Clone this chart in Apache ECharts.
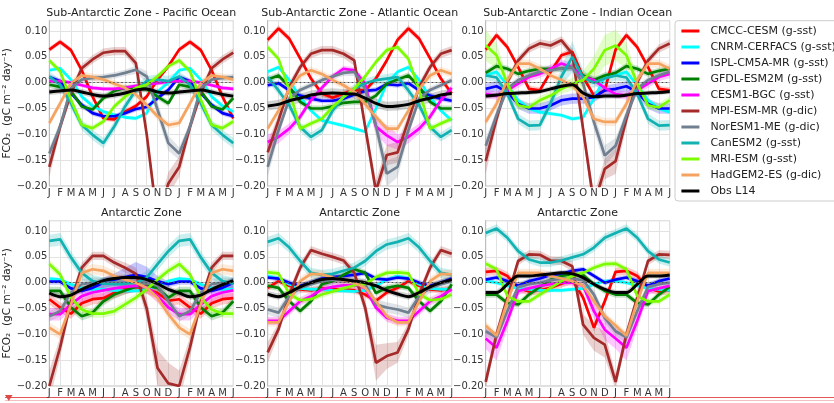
<!DOCTYPE html>
<html>
<head>
<meta charset="utf-8">
<script src="https://cdn.jsdelivr.net/npm/echarts@6/dist/echarts.min.js"></script>
<style>
  html, body { margin: 0; padding: 0; background: #ffffff; }
  #chart { width: 834px; height: 403px; }
</style>
</head>
<body>
<div id="chart"></div>
<script>
// Month ticks: one year of climatology plus the following half year
const monthTicks = ['J','F','M','A','M','J','J','A','S','O','N','D','J','F','M','A','M','J'];

const models = [
  'CMCC-CESM (g-sst)', 'CNRM-CERFACS (g-sst)', 'ISPL-CM5A-MR (g-sst)', 'GFDL-ESM2M (g-sst)',
  'CESM1-BGC (g-sst)', 'MPI-ESM-MR (g-dic)', 'NorESM1-ME (g-dic)', 'CanESM2 (g-sst)',
  'MRI-ESM (g-sst)', 'HadGEM2-ES (g-dic)', 'Obs L14'
];

const panelTitles = [
  'Sub-Antarctic Zone - Pacific Ocean', 'Sub-Antarctic Zone - Atlantic Ocean', 'Sub-Antarctic Zone - Indian Ocean',
  'Antarctic Zone', 'Antarctic Zone', 'Antarctic Zone'
];

// Monthly mean air-sea CO2 flux (Jan..Dec), one row per model in the order of `models`
const sazPacific = [
  [0.064, 0.079, 0.063, 0.024, -0.027, -0.069, -0.071, -0.056, -0.045, -0.027, 0.006, 0.032],
  [0.024, 0.028, 0.006, -0.027, -0.045, -0.056, -0.062, -0.067, -0.069, -0.059, -0.017, 0.0],
  [0.011, 0.003, -0.02, -0.043, -0.059, -0.065, -0.065, -0.059, -0.051, -0.047, -0.03, -0.014],
  [-0.004, -0.008, -0.016, -0.046, -0.052, -0.03, -0.016, -0.01, -0.01, -0.012, -0.027, -0.04],
  [0.003, 0.003, 0.0, -0.005, -0.01, -0.012, -0.012, -0.01, -0.006, -0.004, -0.001, 0.002],
  [-0.163, -0.085, -0.02, 0.028, 0.045, 0.058, 0.061, 0.061, 0.038, -0.1, -0.27, -0.195],
  [-0.137, -0.085, -0.01, 0.006, 0.009, 0.011, 0.014, 0.019, 0.025, 0.012, -0.052, -0.117],
  [0.012, -0.004, -0.04, -0.082, -0.101, -0.117, -0.085, -0.046, -0.014, 0.003, 0.006, 0.003],
  [0.043, 0.022, -0.033, -0.082, -0.088, -0.075, -0.046, -0.027, -0.01, -0.004, 0.012, 0.032],
  [-0.078, -0.04, -0.001, 0.014, 0.011, 0.006, -0.002, -0.01, -0.023, -0.043, -0.065, -0.082],
  [-0.018, -0.016, -0.014, -0.018, -0.023, -0.026, -0.024, -0.02, -0.014, -0.012, -0.018, -0.02]
];
const sazAtlantic = [
  [0.083, 0.105, 0.085, 0.047, 0.008, -0.021, -0.029, -0.021, -0.014, -0.015, 0.008, 0.043],
  [0.021, 0.03, 0.005, -0.028, -0.054, -0.073, -0.078, -0.083, -0.089, -0.095, -0.05, -0.002],
  [-0.005, -0.001, -0.015, -0.025, -0.031, -0.035, -0.035, -0.031, -0.023, -0.016, -0.014, -0.003],
  [0.006, 0.014, -0.008, -0.037, -0.05, -0.05, -0.046, -0.039, -0.037, -0.037, -0.025, -0.002],
  [-0.115, -0.105, -0.089, -0.066, -0.034, -0.01, 0.012, 0.027, 0.024, -0.002, -0.085, -0.102],
  [-0.135, -0.073, -0.008, 0.03, 0.056, 0.063, 0.063, 0.056, 0.043, -0.085, -0.21, -0.14],
  [-0.163, -0.092, -0.031, -0.014, -0.005, 0.005, 0.012, 0.019, 0.021, -0.012, -0.083, -0.176],
  [0.011, -0.015, -0.044, -0.086, -0.105, -0.092, -0.054, -0.028, -0.012, -0.001, 0.005, 0.008],
  [0.069, 0.046, -0.015, -0.089, -0.079, -0.07, -0.047, -0.028, -0.012, 0.012, 0.04, 0.063],
  [-0.089, -0.054, -0.012, 0.014, 0.024, 0.017, 0.005, -0.005, -0.018, -0.041, -0.066, -0.089],
  [-0.045, -0.042, -0.035, -0.03, -0.024, -0.021, -0.02, -0.021, -0.022, -0.03, -0.04, -0.046]
];
const sazIndian = [
  [0.064, 0.092, 0.069, 0.03, -0.012, -0.015, 0.021, 0.053, 0.06, 0.011, -0.025, -0.015],
  [0.014, 0.021, -0.005, -0.034, -0.05, -0.057, -0.06, -0.063, -0.07, -0.067, -0.031, 0.011],
  [-0.012, -0.007, -0.018, -0.041, -0.05, -0.05, -0.044, -0.034, -0.031, -0.031, -0.028, -0.015],
  [0.019, 0.032, 0.027, 0.017, 0.023, 0.027, 0.027, 0.027, 0.03, 0.014, 0.005, 0.014],
  [-0.022, -0.025, -0.015, -0.002, 0.011, 0.017, 0.027, 0.037, 0.03, 0.011, 0.005, -0.01],
  [-0.152, -0.07, 0.001, 0.043, 0.066, 0.076, 0.072, 0.082, 0.056, -0.09, -0.236, -0.167],
  [-0.122, -0.063, -0.012, 0.005, 0.014, 0.021, 0.024, 0.027, 0.03, -0.002, -0.076, -0.141],
  [0.014, 0.01, -0.022, -0.07, -0.083, -0.082, -0.04, 0.012, 0.05, 0.01, 0.0, 0.008],
  [0.072, 0.053, -0.002, -0.044, -0.048, -0.034, -0.025, -0.012, -0.002, 0.005, 0.027, 0.063],
  [-0.076, -0.041, 0.005, 0.037, 0.037, 0.027, 0.014, 0.005, -0.005, -0.028, -0.07, -0.076],
  [-0.026, -0.024, -0.021, -0.02, -0.019, -0.017, -0.012, -0.007, -0.004, -0.02, -0.027, -0.026]
];
const azPacific = [
  [-0.032, -0.048, -0.06, -0.04, -0.032, -0.03, -0.02, -0.012, -0.008, -0.012, -0.02, -0.035],
  [0.008, 0.006, -0.003, -0.01, -0.013, -0.013, -0.015, -0.016, -0.016, -0.013, -0.006, 0.003],
  [0.002, 0.002, -0.011, -0.016, -0.01, 0.0, 0.006, 0.011, 0.015, 0.011, 0.003, -0.003],
  [-0.016, -0.016, -0.048, -0.065, -0.058, -0.036, -0.023, -0.015, -0.008, -0.006, -0.01, -0.029],
  [-0.061, -0.061, -0.042, -0.026, -0.019, -0.015, -0.011, -0.008, -0.006, -0.008, -0.026, -0.048],
  [-0.2, -0.125, -0.036, 0.029, 0.052, 0.052, 0.039, 0.029, 0.017, -0.05, -0.165, -0.195],
  [-0.065, -0.055, -0.019, -0.003, 0.0, 0.0, 0.0, 0.0, 0.0, 0.0, -0.006, -0.036],
  [0.081, 0.084, 0.049, 0.019, 0.003, -0.002, -0.003, -0.002, 0.0, 0.01, 0.036, 0.061],
  [0.036, 0.016, -0.029, -0.052, -0.06, -0.06, -0.055, -0.042, -0.029, -0.013, 0.006, 0.023],
  [-0.087, -0.1, -0.042, 0.019, 0.026, 0.023, 0.013, 0.006, 0.0, -0.01, -0.029, -0.061],
  [-0.02, -0.027, -0.024, -0.013, -0.004, 0.004, 0.008, 0.01, 0.01, 0.006, -0.002, -0.013]
];
const azAtlantic = [
  [-0.01, 0.003, -0.006, -0.013, -0.015, -0.011, -0.013, -0.013, -0.015, -0.023, -0.035, -0.019],
  [0.013, 0.008, -0.003, -0.011, -0.013, -0.013, -0.015, -0.016, -0.017, -0.015, -0.006, 0.006],
  [0.01, 0.008, 0.0, -0.006, 0.0, 0.008, 0.011, 0.013, 0.015, 0.019, 0.008, 0.006],
  [-0.006, -0.01, -0.036, -0.055, -0.036, -0.003, 0.003, 0.015, 0.026, 0.019, -0.02, -0.01],
  [-0.074, -0.074, -0.055, -0.036, -0.026, -0.013, -0.008, -0.005, -0.005, -0.01, -0.048, -0.068],
  [-0.135, -0.09, -0.023, 0.029, 0.063, 0.056, 0.05, 0.043, 0.019, -0.048, -0.155, -0.142],
  [-0.052, -0.058, -0.026, -0.01, -0.003, 0.003, 0.006, 0.005, 0.003, -0.003, -0.042, -0.048],
  [0.079, 0.086, 0.068, 0.042, 0.019, 0.015, 0.017, 0.023, 0.029, 0.042, 0.061, 0.074],
  [0.02, 0.018, -0.022, -0.034, -0.032, -0.023, -0.017, -0.011, -0.005, -0.003, 0.011, 0.019],
  [-0.077, -0.077, -0.036, 0.003, 0.017, 0.016, 0.01, 0.005, 0.0, -0.01, -0.036, -0.065],
  [-0.022, -0.027, -0.019, -0.008, 0.0, 0.006, 0.008, 0.006, 0.003, 0.0, -0.006, -0.015]
];
const azIndian = [
  [0.021, 0.023, 0.013, -0.01, -0.017, -0.015, -0.01, -0.002, 0.006, -0.029, -0.087, -0.036],
  [0.003, 0.0, -0.006, -0.011, -0.013, -0.015, -0.015, -0.015, -0.013, -0.011, -0.003, 0.003],
  [0.006, 0.01, 0.003, -0.006, 0.003, 0.008, 0.015, 0.017, 0.023, 0.026, 0.013, 0.0],
  [-0.023, -0.023, -0.039, -0.042, -0.023, -0.008, 0.006, 0.013, 0.017, 0.015, -0.003, -0.016],
  [-0.108, -0.126, -0.074, -0.016, -0.011, -0.006, -0.003, 0.0, 0.0, -0.006, -0.055, -0.091],
  [-0.192, -0.1, -0.029, 0.042, 0.055, 0.054, 0.043, 0.042, 0.032, -0.081, -0.107, -0.12],
  [-0.094, -0.106, -0.055, -0.008, -0.003, 0.0, 0.005, 0.008, 0.008, 0.005, -0.023, -0.068],
  [0.096, 0.105, 0.087, 0.061, 0.045, 0.039, 0.039, 0.043, 0.049, 0.055, 0.068, 0.087],
  [0.037, 0.026, -0.026, -0.036, -0.036, -0.023, -0.01, 0.003, 0.013, 0.019, 0.029, 0.036],
  [-0.083, -0.103, -0.036, 0.019, 0.019, 0.019, 0.013, 0.008, 0.003, -0.006, -0.036, -0.065],
  [-0.019, -0.019, -0.003, 0.013, 0.013, 0.015, 0.017, 0.019, 0.017, 0.01, -0.003, -0.013]
];

// Spread (half-width of the shaded band) per model: one value or twelve monthly values
const sazPacificSpread = [0.005, 0.004, 0.005, 0.006, 0.004,
  [0.02, 0.012, 0.01, 0.008, 0.008, 0.008, 0.008, 0.008, 0.01, 0.012, 0.02, 0.022],
  [0.012, 0.01, 0.008, 0.006, 0.006, 0.006, 0.006, 0.006, 0.008, 0.01, 0.015, 0.015],
  0.01, 0.006, 0.007, 0.006];
const sazAtlanticSpread = [0.006, 0.004, 0.005, 0.006,
  [0.015, 0.012, 0.01, 0.008, 0.006, 0.006, 0.006, 0.006, 0.006, 0.008, 0.015, 0.02],
  [0.02, 0.012, 0.01, 0.008, 0.008, 0.008, 0.008, 0.008, 0.01, 0.015, 0.02, 0.02],
  [0.02, 0.012, 0.008, 0.006, 0.006, 0.006, 0.006, 0.006, 0.008, 0.01, 0.02, 0.025],
  0.009, 0.006, 0.007, 0.009];
const sazIndianSpread = [0.006, 0.004, 0.01, 0.006, 0.008,
  [0.025, 0.015, 0.01, 0.008, 0.008, 0.008, 0.008, 0.008, 0.01, 0.015, 0.02, 0.02],
  [0.015, 0.01, 0.008, 0.006, 0.006, 0.006, 0.006, 0.006, 0.008, 0.01, 0.015, 0.02],
  [0.01, 0.008, 0.008, 0.01, 0.01, 0.01, 0.012, 0.018, 0.03, 0.015, 0.01, 0.01],
  [0.03, 0.025, 0.012, 0.008, 0.008, 0.008, 0.008, 0.01, 0.012, 0.018, 0.025, 0.03],
  0.008, 0.005];
const azPacificSpread = [0.01, 0.004,
  [0.006, 0.006, 0.006, 0.006, 0.008, 0.01, 0.012, 0.018, 0.025, 0.02, 0.01, 0.006],
  0.008, 0.012,
  [0.03, 0.02, 0.012, 0.01, 0.008, 0.008, 0.008, 0.01, 0.012, 0.02, 0.035, 0.04],
  0.01, 0.012, 0.008, 0.01, 0.006];
const azAtlanticSpread = [0.006, 0.004, 0.005, 0.006, 0.008,
  [0.02, 0.012, 0.01, 0.01, 0.008, 0.008, 0.008, 0.008, 0.01, 0.015, 0.035, 0.025],
  0.01, 0.01, 0.006, 0.008, 0.006];
const azIndianSpread = [0.008, 0.004, 0.005, 0.006,
  [0.02, 0.025, 0.015, 0.008, 0.006, 0.006, 0.006, 0.006, 0.006, 0.008, 0.015, 0.02],
  [0.015, 0.012, 0.01, 0.008, 0.008, 0.008, 0.008, 0.008, 0.01, 0.02, 0.025, 0.025],
  0.01, 0.008, 0.006, 0.008, 0.005];

const yTicks = { min: -0.2, max: 0.12, step: 0.05 };

// ---- styling and layout ----
const modelColors = ['#ff0000', '#00ffff', '#0000ff', '#008000', '#ff00ff', '#a52a2a',
                     '#708090', '#12b2b2', '#7cfc00', '#f4a460', '#000000'];
const FONT = 'DejaVu Sans';
const panels = [
  { data: sazPacific,  spread: sazPacificSpread,  left: 49.3,  top: 20.7 },
  { data: sazAtlantic, spread: sazAtlanticSpread, left: 267.7, top: 20.7 },
  { data: sazIndian,   spread: sazIndianSpread,   left: 485.7, top: 20.7 },
  { data: azPacific,   spread: azPacificSpread,   left: 49.3,  top: 220.7 },
  { data: azAtlantic,  spread: azAtlanticSpread,  left: 267.7, top: 220.7 },
  { data: azIndian,    spread: azIndianSpread,    left: 485.7, top: 220.7 }
];
const PW = 184, PH = 165.3;

function fmtTick(v) {
  if (v > 0.11) return '';
  return v.toFixed(2).replace('-', '\u2212');
}

const grids = [], xAxes = [], yAxes = [], titles = [], series = [];

panels.forEach((p, pi) => {
  grids.push({ left: p.left, top: p.top, width: PW, height: PH, show: true,
               borderColor: '#bdbdbd', borderWidth: 1, backgroundColor: 'transparent' });
  xAxes.push({
    type: 'category', gridIndex: pi, data: monthTicks, boundaryGap: false,
    axisLine: { show: true, lineStyle: { color: '#bdbdbd', width: 1 } },
    axisTick: { show: false },
    axisLabel: { interval: 0, fontSize: 10, color: '#333', margin: 2, fontFamily: FONT },
    splitLine: { show: true, lineStyle: { color: '#e2e2e2', width: 1 } }
  });
  const yAxis = {
    type: 'value', gridIndex: pi, min: yTicks.min, max: yTicks.max, interval: yTicks.step,
    axisLine: { show: true, lineStyle: { color: '#bdbdbd', width: 1 } },
    axisTick: { show: false },
    axisLabel: { formatter: fmtTick, fontSize: 10, color: '#333', margin: 2, fontFamily: FONT, showMaxLabel: false },
    splitLine: { show: true, lineStyle: { color: '#e2e2e2', width: 1 } }
  };
  if (pi % 3 === 0) {
    Object.assign(yAxis, {
      name: 'FCO\u2082  (gC m\u207B\u00B2 day\u207B\u00B9)', nameLocation: 'middle', nameGap: 30, nameRotate: 90,
      nameTextStyle: { fontSize: 10.5, color: '#222', fontFamily: FONT }
    });
  }
  yAxes.push(yAxis);
  titles.push({
    text: panelTitles[pi], left: p.left + PW / 2, top: p.top - 7.5,
    textAlign: 'center', textVerticalAlign: 'middle', padding: 0,
    textStyle: { fontSize: 11, fontWeight: 'normal', color: '#222', fontFamily: FONT }
  });

  p.data.forEach((vals, k) => {
    const color = modelColors[k];
    const s = p.spread[k];
    const sd = i => Array.isArray(s) ? s[i % 12] : s;
    const line = monthTicks.map((_, i) => vals[i % 12]);
    const band = line.map((v, i) => [i, v - sd(i), v + sd(i)]);
    const fill = echarts.color.modifyAlpha(color, k === 10 ? 0.18 : 0.22);

    series.push({
      type: 'custom', name: 'band-' + pi + '-' + k, xAxisIndex: pi, yAxisIndex: pi,
      data: band, encode: { x: 0, y: [1, 2] }, clip: true, silent: true, z: 2,
      renderItem: (params, api) => {
        if (params.dataIndex !== 0) return null;
        const upper = band.map(d => api.coord([d[0], d[2]]));
        const lower = band.map(d => api.coord([d[0], d[1]])).reverse();
        return { type: 'polygon', shape: { points: upper.concat(lower) }, style: { fill: fill } };
      }
    });

    const ls = {
      type: 'line', name: models[k], xAxisIndex: pi, yAxisIndex: pi, data: line,
      symbol: 'none', showSymbol: false, clip: true, silent: true, z: 3,
      smooth: k === 10 ? 0.35 : false,
      color: color, itemStyle: { color: color },
      lineStyle: { color: color, width: k === 10 ? 3 : 2.7 }
    };
    if (k === 0) {
      ls.markLine = {
        silent: true, symbol: 'none', label: { show: false },
        lineStyle: { color: '#555', type: [1.5, 2.5], width: 1 },
        data: [{ yAxis: 0 }]
      };
    }
    series.push(ls);
  });
});

const chart = echarts.init(document.getElementById('chart'), null, { renderer: 'canvas' });
chart.setOption({
  animation: false,
  backgroundColor: '#ffffff',
  title: titles,
  grid: grids,
  xAxis: xAxes,
  yAxis: yAxes,
  legend: {
    data: models, orient: 'vertical', left: 675, top: 20.7,
    icon: 'rect', itemWidth: 18, itemHeight: 3, itemGap: 0, selectedMode: false,
    textStyle: { fontSize: 11, color: '#222', fontFamily: FONT, lineHeight: 16, padding: [0, 0, 0, 6] },
    backgroundColor: '#ffffff', borderColor: '#cccccc', borderWidth: 1, borderRadius: 3,
    padding: [2.3, 40, 2, 6.4]
  },
  graphic: [
    { type: 'line', silent: true, shape: { x1: 5, y1: 397.5, x2: 834, y2: 397.5 },
      style: { stroke: '#e25656', lineWidth: 1.2 } },
    { type: 'line', silent: true, shape: { x1: 5, y1: 400.5, x2: 834, y2: 400.5 },
      style: { stroke: '#f3c0c0', lineWidth: 1 } },
    { type: 'polygon', silent: true, shape: { points: [[5, 395], [12.5, 395], [8.75, 401]] },
      style: { fill: '#e04848' } }
  ],
  series: series
});
</script>
</body>
</html>
